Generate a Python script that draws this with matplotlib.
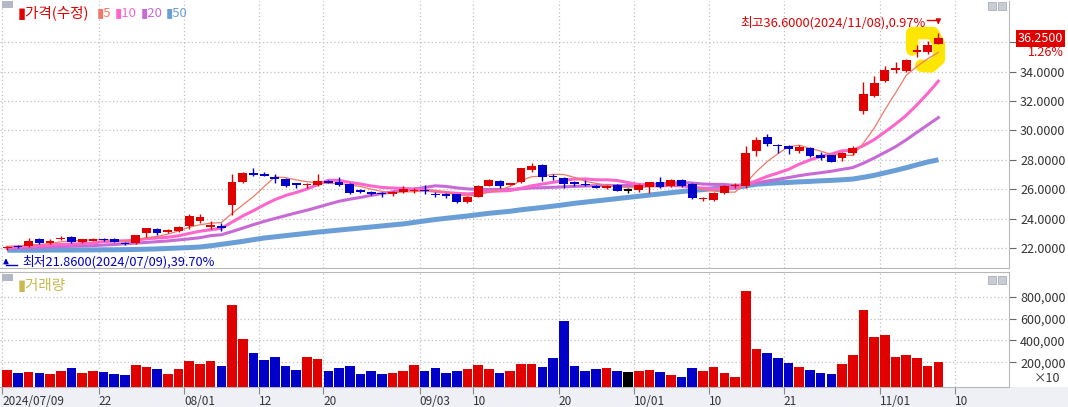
import matplotlib.pyplot as plt
from matplotlib.patches import Rectangle
import matplotlib.transforms as mtransforms
import numpy as np

plt.rcParams['font.family'] = ['Noto Sans CJK KR', 'DejaVu Sans']

# daily candles, 2024/07/09 .. 2024/11/08 (88 sessions)
opens = [22.00, 22.12, 22.13, 22.59, 22.36, 22.62, 22.73, 22.42, 22.52, 22.62,
         22.58, 22.34, 22.32, 23.00, 23.29, 23.12, 23.16, 23.50, 23.82, 23.45,
         23.45, 24.93, 26.49, 27.08, 27.05, 26.80, 26.67, 26.38, 26.30, 26.31,
         26.53, 26.51, 26.33, 25.90, 25.83, 25.75, 25.66, 25.82, 25.90, 25.95,
         25.68, 25.63, 25.65, 25.10, 25.49, 26.22, 26.58, 26.33, 26.51, 27.31,
         27.65, 26.90, 26.74, 26.45, 26.35, 26.24, 26.10, 26.29, 25.95, 25.95,
         26.17, 26.47, 26.24, 26.63, 26.35, 25.35, 25.27, 25.72, 26.22, 26.24,
         28.62, 29.52, 29.00, 28.96, 28.60, 28.82, 28.33, 28.33, 28.10, 28.44,
         31.34, 32.34, 33.38, 34.14, 34.04, 35.35, 35.35, 35.90]
highs = [22.15, 22.20, 22.68, 22.70, 22.60, 22.85, 22.80, 22.62, 22.66, 22.70,
         22.65, 22.40, 22.90, 23.36, 23.35, 23.30, 23.50, 24.31, 24.29, 23.85,
         23.70, 27.03, 27.20, 27.45, 27.15, 27.00, 26.75, 26.45, 26.45, 27.00,
         26.60, 26.80, 26.40, 26.00, 25.90, 25.80, 25.90, 26.21, 26.05, 26.28,
         25.80, 25.75, 25.70, 25.55, 26.30, 26.70, 26.65, 26.45, 27.45, 27.76,
         27.68, 27.05, 26.80, 26.55, 26.62, 26.30, 26.28, 26.35, 26.10, 26.35,
         26.50, 26.85, 26.70, 26.70, 26.45, 25.50, 25.80, 26.30, 26.40, 28.94,
         29.57, 29.76, 29.05, 29.00, 29.00, 28.85, 28.50, 28.35, 28.50, 28.94,
         33.29, 33.67, 34.38, 34.63, 34.85, 35.80, 36.10, 36.60]
lows = [21.86, 22.00, 22.10, 22.25, 22.30, 22.55, 22.35, 22.35, 22.45, 22.50,
        22.38, 22.22, 22.30, 22.73, 22.90, 23.05, 23.10, 23.30, 23.70, 23.27,
        23.15, 24.24, 26.40, 26.90, 26.88, 26.45, 26.15, 26.10, 26.05, 26.25,
        26.40, 26.20, 25.70, 25.75, 25.60, 25.45, 25.55, 25.75, 25.75, 25.70,
        25.45, 25.40, 25.08, 25.05, 25.45, 26.20, 26.08, 26.28, 26.45, 27.20,
        26.55, 26.65, 26.08, 26.20, 26.20, 26.05, 26.00, 25.85, 25.75, 25.80,
        25.75, 26.10, 26.15, 26.15, 25.30, 25.20, 25.20, 25.68, 26.05, 26.10,
        28.28, 28.95, 28.49, 28.40, 28.45, 28.20, 28.00, 27.85, 27.95, 28.35,
        31.12, 32.30, 33.30, 33.90, 33.95, 35.00, 35.20, 35.85]
closes = [22.10, 22.08, 22.50, 22.32, 22.50, 22.70, 22.43, 22.58, 22.57, 22.58,
          22.42, 22.30, 22.88, 23.34, 23.00, 23.20, 23.40, 24.18, 24.13, 23.55,
          23.40, 26.47, 27.12, 26.95, 26.93, 26.72, 26.24, 26.32, 26.36, 26.56,
          26.47, 26.29, 25.76, 25.84, 25.66, 25.70, 25.83, 26.00, 25.94, 25.90,
          25.63, 25.58, 25.11, 25.49, 26.24, 26.63, 26.24, 26.37, 27.42, 27.60,
          26.81, 26.83, 26.35, 26.40, 26.30, 26.10, 26.24, 25.90, 25.95, 26.29,
          26.47, 26.17, 26.63, 26.24, 25.38, 25.40, 25.72, 26.24, 26.27, 28.44,
          29.35, 29.06, 28.94, 28.72, 28.89, 28.28, 28.10, 27.87, 28.44, 28.78,
          32.48, 33.20, 34.10, 34.20, 34.79, 35.45, 35.80, 36.25]
volumes = [129700, 95900, 108700, 95900, 86800, 117800, 147900, 95900, 117800, 108700,
           90400, 77600, 175300, 157100, 138800, 90400, 138800, 209100, 187200, 209100,
           166200, 726000, 412800, 284900, 218300, 245600, 166200, 129700, 245600, 227400,
           117800, 147900, 166200, 86800, 117800, 86800, 95900, 117800, 175300, 117800,
           147900, 99500, 117800, 138800, 175300, 138800, 99500, 117800, 184500, 184500,
           157100, 236500, 577100, 166200, 117800, 138800, 147900, 117800, 108700, 117800,
           129700, 108700, 77600, 59400, 147900, 117800, 157100, 95900, 59400, 851100,
           321400, 284900, 236500, 196300, 157100, 129700, 95900, 86800, 187200, 263900,
           674900, 431000, 449300, 245600, 263900, 236500, 166200, 205500]

# moving average lines as drawn on the chart
ma5 = [22.10, 22.12, 22.20, 22.25, 22.30, 22.42, 22.49, 22.51, 22.56, 22.57,
       22.52, 22.49, 22.55, 22.70, 22.79, 22.94, 23.16, 23.42, 23.58, 23.69,
       23.73, 24.35, 24.93, 25.50, 26.17, 26.84, 26.79, 26.63, 26.51, 26.44,
       26.39, 26.40, 26.29, 26.18, 26.00, 25.85, 25.76, 25.81, 25.83, 25.87,
       25.86, 25.81, 25.63, 25.54, 25.61, 25.81, 25.94, 26.19, 26.58, 26.85,
       26.89, 27.01, 27.00, 26.80, 26.54, 26.40, 26.28, 26.19, 26.10, 26.10,
       26.17, 26.16, 26.30, 26.36, 26.18, 25.96, 25.87, 25.80, 25.80, 26.41,
       27.20, 27.87, 28.41, 28.90, 28.99, 28.78, 28.59, 28.37, 28.32, 28.29,
       29.13, 30.15, 31.40, 32.55, 33.75, 34.35, 34.87, 35.30]
ma10 = [22.05, 22.08, 22.12, 22.16, 22.20, 22.24, 22.27, 22.30, 22.33, 22.44,
        22.47, 22.49, 22.53, 22.63, 22.68, 22.73, 22.83, 22.99, 23.14, 23.24,
        23.34, 23.76, 24.18, 24.54, 24.93, 25.29, 25.57, 25.78, 26.01, 26.31,
        26.61, 26.60, 26.46, 26.35, 26.22, 26.12, 26.08, 26.05, 26.01, 25.94,
        25.86, 25.78, 25.72, 25.68, 25.74, 25.84, 25.88, 25.91, 26.06, 26.23,
        26.35, 26.47, 26.60, 26.69, 26.70, 26.64, 26.64, 26.59, 26.45, 26.32,
        26.28, 26.22, 26.25, 26.23, 26.14, 26.07, 26.02, 26.05, 26.08, 26.30,
        26.58, 26.87, 27.10, 27.35, 27.70, 27.99, 28.23, 28.39, 28.61, 28.64,
        28.96, 29.37, 29.89, 30.43, 31.02, 31.74, 32.51, 33.35]
ma20 = [21.98, 22.00, 22.02, 22.05, 22.07, 22.10, 22.12, 22.14, 22.16, 22.20,
        22.24, 22.29, 22.33, 22.38, 22.43, 22.48, 22.55, 22.62, 22.70, 22.84,
        22.90, 23.12, 23.35, 23.59, 23.81, 24.01, 24.20, 24.39, 24.57, 24.77,
        24.98, 25.18, 25.32, 25.44, 25.58, 25.70, 25.82, 25.92, 26.01, 26.12,
        26.23, 26.19, 26.09, 26.02, 25.98, 25.98, 25.98, 25.98, 26.03, 26.09,
        26.10, 26.13, 26.16, 26.19, 26.22, 26.24, 26.26, 26.25, 26.25, 26.27,
        26.32, 26.35, 26.42, 26.46, 26.42, 26.35, 26.33, 26.32, 26.26, 26.31,
        26.43, 26.55, 26.67, 26.79, 26.92, 27.03, 27.12, 27.22, 27.35, 27.47,
        27.77, 28.12, 28.50, 28.89, 29.36, 29.87, 30.37, 30.87]
ma50 = [21.85, 21.85, 21.85, 21.85, 21.86, 21.86, 21.86, 21.87, 21.87, 21.88,
        21.88, 21.89, 21.90, 21.92, 21.94, 21.97, 22.00, 22.03, 22.07, 22.15,
        22.25, 22.35, 22.45, 22.57, 22.68, 22.76, 22.84, 22.92, 23.00, 23.08,
        23.15, 23.22, 23.29, 23.36, 23.43, 23.50, 23.57, 23.64, 23.74, 23.84,
        23.94, 24.02, 24.10, 24.18, 24.27, 24.36, 24.43, 24.50, 24.60, 24.68,
        24.76, 24.85, 24.94, 25.04, 25.12, 25.20, 25.28, 25.36, 25.44, 25.52,
        25.60, 25.68, 25.76, 25.84, 25.91, 25.97, 26.04, 26.08, 26.12, 26.22,
        26.34, 26.39, 26.43, 26.46, 26.50, 26.53, 26.57, 26.60, 26.64, 26.69,
        26.81, 26.94, 27.11, 27.28, 27.46, 27.66, 27.85, 28.00]

# date labels (session index where each label sits)
tick_idx = [0, 9, 17, 24, 30, 39, 44, 52, 59, 66, 73, 82, 89]
tick_labels = ['2024/07/09', '22', '08/01', '12', '20', '09/03', '10', '20',
               '10/01', '10', '21', '11/01', '10']
price_ticks = [22, 24, 26, 28, 30, 32, 34, 36]
vol_ticks = [200000, 400000, 600000, 800000]

W, H = 1068, 407
RED = '#e00000'
BLUE = '#0000c8'
GRID = '#c0c0c0'
TXT = '#333333'


def fx(px):
    return px / W


def fy(py):
    return 1 - py / H


fig = plt.figure(figsize=(W / 100, H / 100), dpi=100)
fig.patch.set_facecolor('white')
# strip behind the date labels
fig.add_artist(Rectangle((0, 0), 1, fy(387), transform=fig.transFigure,
                         fc='#eef0f6', ec='none', zorder=0))

ax = fig.add_axes([0, fy(268), fx(1009), fy(1) - fy(268)])
axv = fig.add_axes([0, fy(387), fx(1009), fy(272) - fy(387)], sharex=ax)

x = np.arange(len(closes))
o = np.array(opens)
c = np.array(closes)
cols = np.where(c > o, RED, np.where(c < o, BLUE, 'black'))

# moving averages
ax.plot(x, ma50, color='#6a9ed6', lw=3.6, zorder=2, solid_capstyle='butt')
ax.plot(x, ma20, color='#c86ad6', lw=2.2, zorder=2)
ax.plot(x, ma10, color='#ff66cc', lw=2.2, zorder=3)
ax.plot(x, ma5, color='#f07a6a', lw=0.9, zorder=3)

# candles
ax.vlines(x, lows, highs, colors=cols, lw=1, zorder=4)
body = np.maximum(np.abs(c - o), 0.09)
ax.bar(x, body, bottom=(o + c) / 2 - body / 2, width=0.82, color=cols,
       linewidth=0, zorder=5)

# yellow highlight around the last sessions
n = len(closes) - 1
ax.plot([n - 2.45, n - 2.45, n - 0.5, n + 0.05, n + 0.05, n - 0.7, n - 1.6],
        [35.5, 36.62, 36.62, 35.85, 34.85, 34.35, 34.4],
        color='#ffe600', lw=9, solid_joinstyle='round',
        solid_capstyle='round', zorder=1)

# volume bars
vbot, vtop = -28000, 1027000
axv.bar(x, np.array(volumes) - vbot, bottom=vbot, width=0.9, color=cols,
        linewidth=0, zorder=3)

for a in (ax, axv):
    a.set_xlim(-0.68, 93.6)
    a.yaxis.tick_right()
    a.set_facecolor('white')
    a.grid(True, color=GRID, ls=(0, (1, 2)), lw=0.9)
    a.set_axisbelow(True)
    for s in ('left', 'top', 'bottom'):
        a.spines[s].set_visible(False)
    a.spines['right'].set_color('#b8b8b8')
    a.tick_params(axis='y', length=5, pad=3, color='#666666',
                  labelcolor=TXT, labelsize=9)

ax.spines['bottom'].set_visible(True)
ax.spines['bottom'].set_color('#b8b8b8')
axv.spines['top'].set_visible(True)
axv.spines['top'].set_color('#b8b8b8')
axv.spines['bottom'].set_visible(True)
axv.spines['bottom'].set_color('#b8b8b8')

ax.set_ylim(20.64, 38.8)
ax.set_yticks(price_ticks)
ax.set_yticklabels([f'{v:.4f}' for v in price_ticks[:-1]] + [''])
ax.tick_params(axis='x', length=0, labelbottom=False)

axv.set_ylim(vbot, vtop)
axv.set_yticks(vol_ticks)
axv.set_yticklabels([f'{v:,}' for v in vol_ticks])
axv.set_xticks(np.array(tick_idx) - 0.47)
axv.set_xticklabels(tick_labels)
axv.tick_params(axis='x', length=5, pad=1, color='#888888',
                labelcolor=TXT, labelsize=8.5)
for lbl in axv.get_xticklabels():
    lbl.set_horizontalalignment('left')

# last price tag and change
blend = mtransforms.blended_transform_factory(ax.transAxes, ax.transData)
ax.text(1.0085, c[-1], f'{c[-1]:.4f}', transform=blend, color='white',
        fontsize=9, va='center', ha='left', clip_on=False,
        bbox=dict(fc='#e00000', ec='none', pad=1.2))
chg = (c[-1] / c[-2] - 1) * 100
fig.text(fx(1064), fy(52), f'{chg:.2f}%', color=RED, fontsize=9,
         ha='right', va='center')

# high / low markers
hi_i = int(np.argmax(highs))
hi = highs[hi_i]
lo_i = int(np.argmin(lows))
lo = lows[lo_i]
ax.text(hi_i - 1.2, hi + 0.74,
        f'최고{hi:.4f}(2024/11/08),{(hi / c[-1] - 1) * 100:.2f}%',
        color=RED, fontsize=9.2, ha='right', va='center')
ax.plot([hi_i - 1.1, hi_i], [hi + 0.92, hi + 0.92], color=RED, lw=1)
ax.annotate('', xy=(hi_i, hi + 0.42), xytext=(hi_i, hi + 0.94),
            arrowprops=dict(arrowstyle='-|>', color=RED, lw=1,
                            mutation_scale=7))
ax.text(lo_i + 1.37, lo - 0.8,
        f'최저{lo:.4f}(2024/07/09),{(1 - lo / c[-1]) * 100:.2f}%',
        color=BLUE, fontsize=9.2, ha='left', va='center')
ax.plot([lo_i - 0.12, lo_i + 0.9], [lo - 1.03, lo - 1.03], color=BLUE, lw=1)
ax.annotate('', xy=(lo_i - 0.12, lo - 0.37), xytext=(lo_i - 0.12, lo - 1.05),
            arrowprops=dict(arrowstyle='-|>', color=BLUE, lw=1,
                            mutation_scale=7))

# pane captions
legend = [('▮가격(수정)', RED, 18, 10.5), ('▮5', '#f07a6a', 97, 9.5),
          ('▮10', '#ff66cc', 115, 9.5), ('▮20', '#c86ad6', 141, 9.5),
          ('▮50', '#6a9ed6', 166, 9.5)]
for txt, col, px, fs in legend:
    fig.text(fx(px), fy(13), txt, color=col, fontsize=fs, va='center')
fig.text(fx(18), fy(286), '▮거래량', color='#c8b850', fontsize=10.5, va='center')
fig.text(fx(1034), fy(379), '×10', color=TXT, fontsize=9, va='center')

# little pane buttons
for yy in (1, 274):
    fig.add_artist(Rectangle((fx(2), fy(yy + 7)), fx(11), 7 / H,
                             transform=fig.transFigure, fc='#b4b8c4', ec='none'))
for yy in (2, 276):
    for xx in (988, 998):
        fig.add_artist(Rectangle((fx(xx), fy(yy + 8)), fx(8), 8 / H,
                                 transform=fig.transFigure, fc='#c8ccd4',
                                 ec='#a0a4ac', lw=0.5))

fig.savefig('out.png', dpi=100)
